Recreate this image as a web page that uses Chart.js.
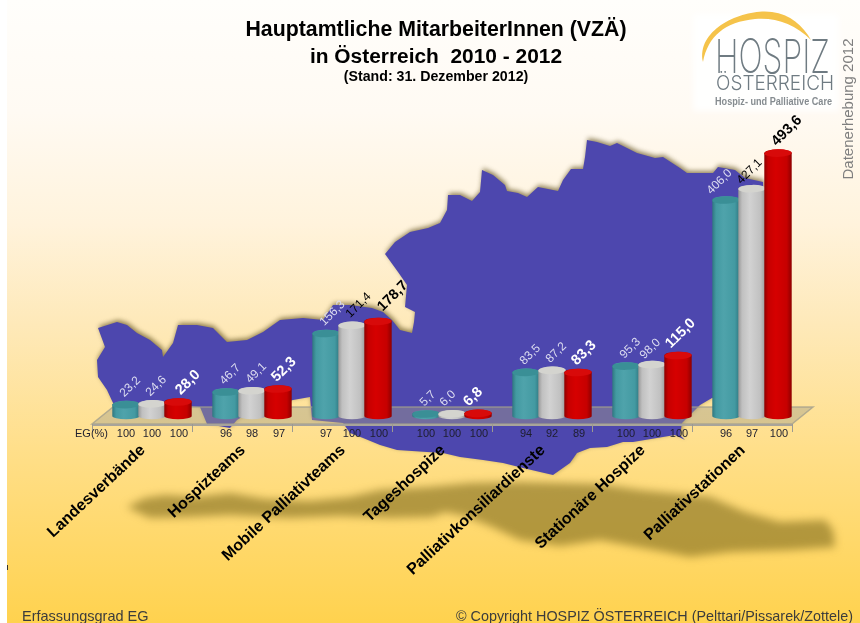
<!DOCTYPE html>
<html lang="de">
<head>
<meta charset="utf-8">
<title>Hauptamtliche MitarbeiterInnen (VZÄ)</title>
<script src="https://cdn.jsdelivr.net/npm/chart.js@4/dist/chart.umd.min.js"></script>
<style>
html,body{margin:0;padding:0;background:#fff;overflow:hidden}
canvas{display:block}
</style>
</head>
<body>
<canvas id="c" width="860" height="623"></canvas>
<script>
const categories = ["Landesverbände","Hospizteams","Mobile Palliativteams","Tageshospize","Palliativkonsiliardienste","Stationäre Hospize","Palliativstationen"];
const values2010 = [23.2,46.7,156.3,5.7,83.5,95.3,406.0];
const values2011 = [24.6,49.1,171.4,6.0,87.2,98.0,427.1];
const values2012 = [28.0,52.3,178.7,6.8,83.3,115.0,493.6];
const eg2010 = [100,96,97,100,94,100,96];
const eg2011 = [100,98,100,100,92,100,97];
const eg2012 = [100,97,100,100,89,100,100];
const seriesNames = ["2010","2011","2012"];
const titleLines = ["Hauptamtliche MitarbeiterInnen (VZÄ)","in Österreich  2010 - 2012"];
const subtitleLine = "(Stand: 31. Dezember 2012)";
const darkLabelKeys = ["1:2","2:2","1:6","2:6"];

const mapOutline = [[98,328],[117,322],[127,325],[137,333],[150,340],[162,350],[163,357],[173,343],[178,325],[197,325],[213,328],[227,342],[247,340],[263,332],[280,320],[303,318],[323,320],[333,305],[350,305],[372,308],[383,312],[392,320],[400,330],[412,333],[414,322],[415,312],[405,307],[407,285],[398,272],[385,254],[395,242],[410,232],[428,228],[440,223],[447,210],[448,195],[460,195],[472,201],[480,192],[482,170],[493,175],[505,185],[507,191],[518,193],[527,197],[538,187],[558,191],[563,180],[571,169],[583,169],[585,157],[587,140],[597,142],[610,146],[617,143],[637,153],[655,158],[663,157],[680,168],[687,173],[713,173],[718,167],[735,170],[745,178],[763,182],[765,300],[760,390],[712,398],[700,405],[690,415],[682,423],[680,435],[685,440],[675,435],[657,438],[633,442],[623,442],[607,447],[590,448],[577,453],[570,463],[553,475],[540,472],[523,468],[503,463],[483,460],[460,457],[443,453],[427,452],[397,450],[380,445],[363,438],[350,433],[343,423],[312,420],[310,397],[293,400],[250,412],[237,420],[230,428],[207,424],[200,407],[113,403],[107,390],[98,377],[97,360],[105,347]];
const shadowOutline = [[127,507],[145,498],[165,495],[195,497],[230,493],[265,499],[310,501],[350,497],[380,490],[430,487],[470,483],[520,482],[600,484],[640,490],[710,497],[745,512],[780,522],[825,520],[833,530],[835,547],[790,550],[730,552],[690,557],[665,552],[600,540],[560,546],[520,540],[490,526],[465,516],[445,512],[432,517],[390,518],[340,516],[290,518],[230,515],[190,517],[150,518]];

const sans = '"Liberation Sans", Arial, sans-serif';
const palette = [
  {edge:'#2f7780',mid:'#4fa3ab',light:'#439aa2',top:'#3a8f96'},
  {edge:'#989898',mid:'#d2d2d2',light:'#c0c0c0',top:'#d4d4cf'},
  {edge:'#8e0000',mid:'#d60000',light:'#c60000',top:'#d80a0a'}
];
const egValues = [eg2010,eg2011,eg2012];
const labelNudge = {"2:3":[-8,0],"1:3":[-6,0],"0:6":[-13,2],"1:6":[-9,3],"1:5":[-6,2],"2:5":[-6,0],"2:0":[4,0],"2:2":[6,-3]};

function polygon(ctx, pts){
  ctx.beginPath();
  pts.forEach((p,i)=> i ? ctx.lineTo(p[0],p[1]) : ctx.moveTo(p[0],p[1]));
  ctx.closePath();
}

const backdrop = {
  id:'backdrop',
  beforeDraw(chart){
    const ctx = chart.ctx;
    ctx.save();
    ctx.fillStyle='#ffffff';
    ctx.fillRect(0,0,860,623);
    const g = ctx.createLinearGradient(0,0,0,623);
    g.addColorStop(0,'#fffefb');
    g.addColorStop(0.18,'#fffaf3');
    g.addColorStop(0.36,'#fff3dc');
    g.addColorStop(0.52,'#fee9b9');
    g.addColorStop(0.72,'#ffdf8a');
    g.addColorStop(1,'#ffd24e');
    ctx.fillStyle=g;
    ctx.fillRect(7,0,853,623);
    ctx.fillStyle='#333';
    ctx.fillRect(7,565,1,5);

    // ground shadow
    ctx.save();
    ctx.filter='blur(4px)';
    ctx.fillStyle='rgba(130,110,30,0.62)';
    polygon(ctx,shadowOutline);
    ctx.fill();
    ctx.restore();

    // map
    ctx.save();
    ctx.shadowColor='rgba(105,90,40,0.75)';
    ctx.shadowBlur=5;
    ctx.shadowOffsetY=-2;
    ctx.shadowOffsetX=1;
    ctx.fillStyle='#4d47ae';
    polygon(ctx,mapOutline);
    ctx.fill();
    ctx.restore();

    // logo
    ctx.save();
    ctx.filter='blur(3px)';
    ctx.fillStyle='rgba(255,255,255,0.9)';
    ctx.fillRect(693,14,146,97);
    ctx.restore();
    ctx.fillStyle='#f5c34a';
    ctx.beginPath();
    ctx.moveTo(703,62);
    ctx.bezierCurveTo(696,28,745,8,772,12);
    ctx.bezierCurveTo(790,14,803,26,811,40);
    ctx.bezierCurveTo(795,24,775,17,755,19);
    ctx.bezierCurveTo(725,22,708,36,703,62);
    ctx.closePath();
    ctx.fill();
    ctx.fillStyle='#6f7b82';
    ctx.textAlign='left';
    ctx.textBaseline='alphabetic';
    ctx.font='200 47px Inter, "Liberation Sans", sans-serif';
    ctx.fillText('HOSPIZ',715,73,115);
    ctx.font='300 20.5px Inter, "Liberation Sans", sans-serif';
    ctx.fillText('ÖSTERREICH',716,90,118);
    ctx.font='bold 10.5px "Liberation Sans", sans-serif';
    ctx.fillStyle='#868c90';
    ctx.fillText('Hospiz- und Palliative Care',715,105,117);

    // vertical note
    ctx.save();
    ctx.translate(853,109);
    ctx.rotate(-Math.PI/2);
    ctx.textAlign='center';
    ctx.fillStyle='#7f7f7f';
    ctx.font='15px '+sans;
    ctx.fillText('Datenerhebung 2012',0,0);
    ctx.restore();

    // titles
    ctx.fillStyle='#000';
    ctx.textAlign='center';
    ctx.font='bold 21.3px '+sans;
    ctx.fillText(titleLines[0],436,36);
    ctx.font='bold 20.9px '+sans;
    ctx.fillText(titleLines[1],436,63);
    ctx.font='bold 14.2px '+sans;
    ctx.fillText(subtitleLine,436,81);

    // footer
    ctx.fillStyle='#3c3c3c';
    ctx.textAlign='left';
    ctx.font='14.5px '+sans;
    ctx.fillText('Erfassungsgrad EG',22,621,128);
    ctx.fillText('© Copyright HOSPIZ ÖSTERREICH (Pelttari/Pissarek/Zottele)',456,621,397);
    ctx.restore();
  },
  beforeDatasetsDraw(chart){
    const ctx = chart.ctx, x = chart.scales.x, y = chart.scales.y;
    const base = y.getPixelForValue(0);
    const fl = x.left-10, fr = x.right-10, front = base+7, back = base-10;
    ctx.save();
    ctx.fillStyle='rgba(163,159,140,0.44)';
    polygon(ctx,[[fl,front],[fr,front],[fr+21,back],[fl+21,back]]);
    ctx.fill();
    ctx.strokeStyle='rgba(160,158,140,0.75)';
    ctx.lineWidth=1.5;
    polygon(ctx,[[fl,front],[fr,front],[fr+21,back],[fl+21,back]]);
    ctx.stroke();
    ctx.fillStyle='#a8a49a';
    ctx.fillRect(fl,front,fr-fl,2);
    ctx.lineWidth=1;
    ctx.strokeStyle='#9d9a90';
    ctx.beginPath();
    for(let i=0;i<=categories.length;i++){
      const tx = Math.round(fl+(fr-fl)*i/categories.length)+0.5;
      ctx.moveTo(tx,front); ctx.lineTo(tx,front+8);
    }
    ctx.stroke();
    ctx.restore();
  },
  afterDatasetsDraw(chart){
    const ctx = chart.ctx, y = chart.scales.y;
    const base = y.getPixelForValue(0);
    ctx.save();
    for(let c=0;c<categories.length;c++){
      for(let d=0;d<3;d++){
        const el = chart.getDatasetMeta(d).data[c];
        const col = palette[d];
        const rx = el.width/2+0.7, ry = 3.8, l = el.x-rx, r = el.x+rx, top = el.y, bot = base-1;
        const g = ctx.createLinearGradient(l,0,r,0);
        g.addColorStop(0,col.edge);
        g.addColorStop(0.14,col.light);
        g.addColorStop(0.42,col.mid);
        g.addColorStop(0.82,col.light);
        g.addColorStop(1,col.edge);
        ctx.fillStyle=g;
        ctx.beginPath();
        ctx.moveTo(l,top);
        ctx.lineTo(l,bot);
        ctx.ellipse(el.x,bot,rx,ry-0.6,0,Math.PI,0,true);
        ctx.lineTo(r,top);
        ctx.ellipse(el.x,top,rx,ry,0,0,Math.PI,true);
        ctx.closePath();
        ctx.fill();
        ctx.fillStyle=col.top;
        ctx.beginPath();
        ctx.ellipse(el.x,top,rx,ry,-0.03,0,Math.PI*2);
        ctx.fill();
      }
    }
    // value labels
    ctx.textAlign='left';
    ctx.textBaseline='middle';
    for(let d=0;d<3;d++){
      const meta = chart.getDatasetMeta(d);
      const vals = chart.data.datasets[d].data;
      meta.data.forEach((el,c)=>{
        const key = d+':'+c, n = labelNudge[key] || [0,0];
        ctx.save();
        ctx.translate(el.x-4+n[0],el.y-9.5+n[1]);
        ctx.rotate(-Math.PI/4);
        ctx.font=(d===2?'bold 14.5px ':'12px ')+sans;
        const dark = darkLabelKeys.indexOf(key)>=0;
        ctx.fillStyle= dark ? '#000' : (d===2 ? '#ffffff' : '#dcdcf0');
        ctx.fillText(vals[c].toFixed(1).replace('.',','),0,0);
        ctx.restore();
      });
    }
    // EG row
    ctx.fillStyle='#1e1e2e';
    ctx.font='11px '+sans;
    ctx.textBaseline='middle';
    ctx.textAlign='center';
    for(let d=0;d<3;d++){
      chart.getDatasetMeta(d).data.forEach((el,c)=>{
        ctx.fillText(String(egValues[d][c]),el.x+(d===2?1:0),base+17);
      });
    }
    ctx.textAlign='right';
    ctx.fillText('EG(%)',108,base+17);
    ctx.restore();
  }
};

new Chart(document.getElementById('c'),{
  type:'bar',
  data:{
    labels:categories,
    datasets:[
      {label:seriesNames[0],data:values2010,backgroundColor:palette[0].light},
      {label:seriesNames[1],data:values2011,backgroundColor:palette[1].light},
      {label:seriesNames[2],data:values2012,backgroundColor:palette[2].light}
    ]
  },
  options:{
    responsive:false,
    animation:false,
    events:[],
    layout:{padding:{left:102,right:58,top:123,bottom:0}},
    datasets:{bar:{categoryPercentage:0.78,barPercentage:1}},
    plugins:{legend:{display:false},title:{display:false},tooltip:{enabled:false}},
    scales:{
      y:{display:false,min:0,max:550},
      x:{
        grid:{display:false,drawTicks:false},
        border:{display:false},
        afterFit(s){ s.height=206; },
        ticks:{
          autoSkip:false,
          minRotation:43,
          maxRotation:43,
          padding:24,
          labelOffset:-9,
          color:'#000',
          font:{family:'"Liberation Sans", Arial, sans-serif',size:16,weight:'bold'}
        }
      }
    }
  },
  plugins:[backdrop]
});
</script>
</body>
</html>
